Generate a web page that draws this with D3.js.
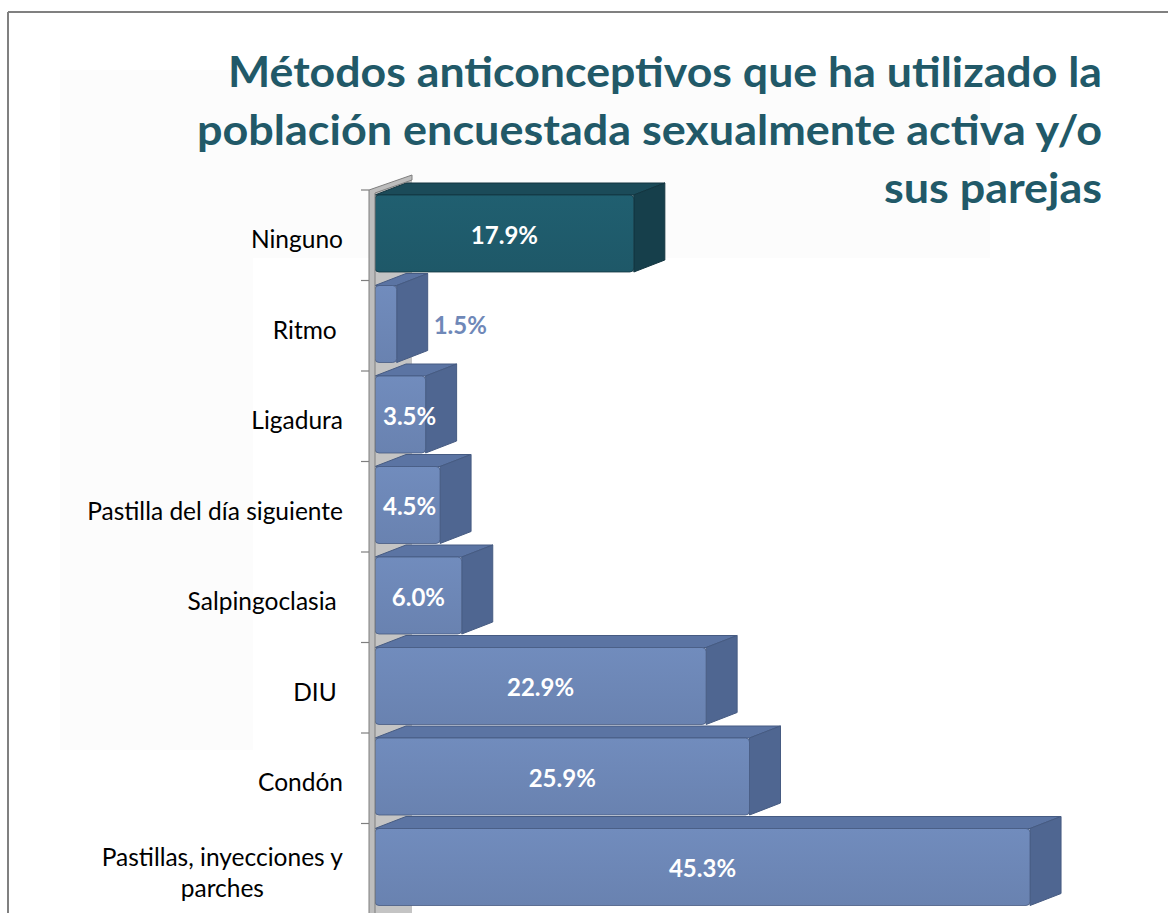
<!DOCTYPE html>
<meta charset="utf-8">
<head>
<style>
body { margin: 0; background: #fff; }
svg { display: block; }
.cat text { font: 24.5px Lato, "Open Sans", sans-serif; fill: #000; }
.val { font: bold 24px Lato, "Open Sans", sans-serif; }
.title text { font: bold 42px Lato, "Open Sans", sans-serif; fill: #215968; }
</style>
<script src="https://d3js.org/d3.v7.min.js"></script>
</head>
<body>
<svg width="1168" height="913"></svg>
<script>

// chart data
var categories = ["Ninguno", "Ritmo ", "Ligadura", "Pastilla del día siguiente", "Salpingoclasia ", "DIU ", "Condón", "Pastillas, inyecciones y\nparches"];
var values = [17.9, 1.5, 3.5, 4.5, 6.0, 22.9, 25.9, 45.3];
var highlighted = ["Ninguno"];
var titleLines = ["Métodos anticonceptivos que ha utilizado la", "población encuestada sexualmente activa y/o", "sus parejas"];

var svg = d3.select("svg"),
    width = +svg.attr("width"),
    height = +svg.attr("height");

var x = d3.scaleLinear().domain([0, 50]).range([375, 1098]);
var y = d3.scaleBand().domain(categories).range([190, 914]);

var depthX = 31, depthY = -12;   // fake 3d offset
var faceTop = 5, faceH = 77;

var blue = { front: "#6c86b5", side: "#4f6691", top: "#5b74a3", edge: "#465b82" };
var teal = { front: "#1f5b6b", side: "#163f4b", top: "#1b4b59", edge: "#123540" };

// faint background panels (slide screenshot)
svg.append("rect").attr("x", 60).attr("y", 70).attr("width", 930).attr("height", 188).attr("fill", "#fcfcfc");
svg.append("rect").attr("x", 60).attr("y", 258).attr("width", 193).attr("height", 492).attr("fill", "#fcfcfc");

// frame
svg.append("line").attr("x1", 8).attr("x2", width).attr("y1", 12).attr("y2", 12)
    .attr("stroke", "#808080").attr("stroke-width", 2);
svg.append("line").attr("x1", 8).attr("x2", 8).attr("y1", 12).attr("y2", height)
    .attr("stroke", "#808080").attr("stroke-width", 2);

// title
var title = svg.append("g").attr("class", "title");
var titleWidths = [874, 905, 218];
title.selectAll("text")
  .data(titleLines)
  .enter().append("text")
    .attr("x", 1102)
    .attr("y", function(d, i) { return 87 + i * 58; })
    .attr("text-anchor", "end")
    .attr("textLength", function(d, i) { return titleWidths[i]; })
    .attr("lengthAdjust", "spacingAndGlyphs")
    .text(function(d) { return d; });

// back wall piece behind the bars
var y0 = y.range()[0], y1 = y.range()[1];
svg.append("path")
    .attr("d", "M375," + y0 + " L" + (375 + 37) + "," + (y0 - 13) + " L" + (375 + 37) + "," + y1 + " L375," + y1 + "Z")
    .attr("fill", "#c4c4c4");

// bars
var gradFront = svg.append("defs");
[["blueGrad", blue], ["tealGrad", teal]].forEach(function(p) {
  var g = gradFront.append("linearGradient").attr("id", p[0]).attr("x1", 0).attr("x2", 0).attr("y1", 0).attr("y2", 1);
  g.append("stop").attr("offset", "0%").attr("stop-color", d3.color(p[1].front).brighter(0.12));
  g.append("stop").attr("offset", "100%").attr("stop-color", d3.color(p[1].front).darker(0.08));
});

var bars = svg.append("g").attr("class", "bars")
  .selectAll("g")
  .data(categories)
  .enter().append("g");

bars.each(function(c, i) {
  var g = d3.select(this);
  var pal = highlighted.indexOf(c) >= 0 ? teal : blue;
  var x0 = x(0), x1 = x(values[i]);
  var top = y(c) + faceTop, bot = top + faceH;

  // top face
  g.append("path")
    .attr("d", "M" + x0 + "," + top + " L" + (x0 + depthX) + "," + (top + depthY) +
      " L" + (x1 + depthX) + "," + (top + depthY) + " L" + x1 + "," + top + "Z")
    .attr("fill", pal.top).attr("stroke", pal.edge).attr("stroke-width", 1)
    .attr("stroke-linejoin", "round");
  // side face
  g.append("path")
    .attr("d", "M" + x1 + "," + top + " L" + (x1 + depthX) + "," + (top + depthY) +
      " L" + (x1 + depthX) + "," + (bot + depthY) + " L" + x1 + "," + bot + "Z")
    .attr("fill", pal.side).attr("stroke", pal.edge).attr("stroke-width", 1)
    .attr("stroke-linejoin", "round");
  // front face
  g.append("rect")
    .attr("x", x0).attr("y", top)
    .attr("width", x1 - x0).attr("height", faceH)
    .attr("rx", 4)
    .attr("fill", pal === teal ? "url(#tealGrad)" : "url(#blueGrad)")
    .attr("stroke", pal.edge).attr("stroke-width", 0.8);
});

// axis wall
svg.append("path")
    .attr("d", "M369," + y1 + " L369," + y0 + " L412," + (y0 - 15) + " L412," + (y0 - 10) + " L375," + (y0 + 3) + " L375," + y1 + "Z")
    .attr("fill", "#bdbdbd").attr("stroke", "#7f7f7f").attr("stroke-width", 1);

// ticks at band edges
var tickYs = categories.map(function(c) { return y(c); }).concat([y1]);
svg.append("g").selectAll("line")
  .data(tickYs)
  .enter().append("line")
    .attr("x1", 361).attr("x2", 369)
    .attr("y1", function(d) { return d; }).attr("y2", function(d) { return d; })
    .attr("stroke", "#7f7f7f").attr("stroke-width", 1.2);

// category labels
var cat = svg.append("g").attr("class", "cat");
categories.forEach(function(c) {
  var lines = c.split("\n");
  var cy = y(c) + y.bandwidth() / 2;
  var lh = 31;
  var t = cat.append("text")
    .attr("xml:space", "preserve")
    .style("white-space", "pre");
  lines.forEach(function(l, j) {
    t.append("tspan")
      .attr("y", cy + (j - (lines.length - 1) / 2) * lh + 4)
      .attr("dy", "0.36em")
      .text(l);
  });
  if (lines.length === 1) {
    t.attr("text-anchor", "end").selectAll("tspan").attr("x", 343);
  } else {
    var maxW = 0;
    t.selectAll("tspan").each(function() { maxW = Math.max(maxW, this.getComputedTextLength()); });
    t.attr("text-anchor", "middle").selectAll("tspan").attr("x", 343 - maxW / 2);
  }
});

// value labels
var vals = svg.append("g");
categories.forEach(function(c, i) {
  var x0 = x(0), x1 = x(values[i]);
  var t = vals.append("text")
    .attr("class", "val")
    .attr("y", y(c) + y.bandwidth() / 2)
    .attr("dy", "0.36em")
    .text(values[i].toFixed(1) + "%");
  var tw = t.node().getComputedTextLength();
  if (x1 - x0 < tw * 0.9) {
    t.attr("x", x1 + depthX + 6).attr("text-anchor", "start").attr("fill", "#6f88b8");
  } else {
    var cx = Math.max((x0 + x1) / 2, x0 + 8 + tw / 2);
    t.attr("x", cx).attr("text-anchor", "middle").attr("fill", "#fff");
  }
});

</script>
</body>
